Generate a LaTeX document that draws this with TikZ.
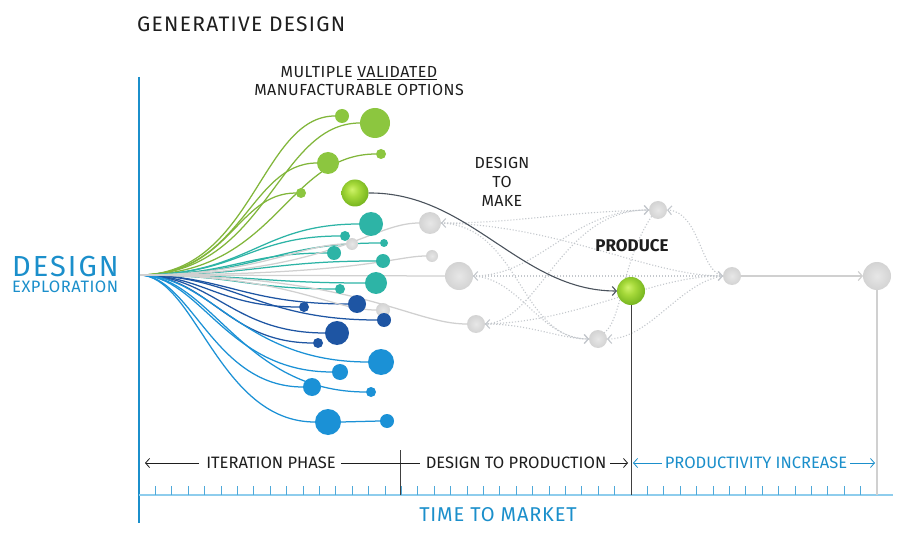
\documentclass[tikz,border=0pt]{standalone}
\usepackage{fontspec}
\setmainfont{Fira Sans}
\usetikzlibrary{arrows.meta}

\definecolor{gdInk}{HTML}{1E1E1E}
\definecolor{gdAxis}{HTML}{1B8FCB}
\definecolor{gdTick}{HTML}{4EA9DA}
\definecolor{gdRule}{HTML}{8ECDED}
\definecolor{gdGreen}{HTML}{8CC63F}
\definecolor{gdTeal}{HTML}{2DB4A6}
\definecolor{gdNavy}{HTML}{1E55A3}
\definecolor{gdBlue}{HTML}{1B91D6}
\definecolor{gdGray}{HTML}{D3D3D3}
\definecolor{gdGrayLine}{HTML}{D0D0D0}
\definecolor{gdDot}{HTML}{C4C8CD}
\definecolor{gdDark}{HTML}{4B535D}
\definecolor{gdLimeHi}{HTML}{CFF36A}
\definecolor{gdLime}{HTML}{A6D93A}
\definecolor{gdLimeLo}{HTML}{76B51F}

\pgfdeclareradialshading{gdlime}{\pgfpoint{-6bp}{7bp}}{%
  color(0bp)=(gdLimeHi); color(12bp)=(gdLime); color(28bp)=(gdLimeLo); color(50bp)=(gdLimeLo)}
\pgfdeclarelayer{bg}
\pgfsetlayers{bg,main}

\begin{document}
\begin{tikzpicture}[
  x=1pt, y=-1pt, text=gdInk,
  gd ball/.style={circle,inner sep=0pt,outer sep=0pt,fill=#1},
  gd lime/.style={circle,inner sep=0pt,outer sep=0pt,shading=gdlime},
  gd ghost/.style={circle,inner sep=0pt,outer sep=0pt,inner color=gdGray!55!white,outer color=gdGray},
  gd path/.style={draw=#1,line width=1.25pt},
  gd flow/.style={draw=gdDot,line width=1.1pt,dash pattern=on 1.1pt off 1.9pt},
  gd tip/.style={-{Straight Barb[length=4pt,width=9pt]}},
  gd dim/.style={draw=gdInk,line width=.8pt},
  gd tick/.style={draw=gdTick,line width=.9pt},
  gd label/.style={font=\fontsize{16.5}{19}\selectfont,inner sep=0pt}
]
\begin{pgfonlayer}{bg}
  \fill[white] (0,0) rectangle (923,553);
\end{pgfonlayer}
\useasboundingbox (0,0) rectangle (923,553);

% Titles and axis words.
\node[anchor=west,inner sep=0pt,font=\fontsize{21}{24}\selectfont\addfontfeatures{LetterSpace=6}] (title) at (137,24) {GENERATIVE DESIGN};
\node[anchor=north west,inner sep=0pt,align=left,text=gdAxis,
  font=\fontsize{16.5}{16.5}\selectfont\addfontfeatures{LetterSpace=3}] (expl) at (12,255.5)
  {{\fontsize{29}{29}\selectfont\addfontfeatures{LetterSpace=7}DESIGN}\\EXPLORATION};
\node[gd label,align=center,font=\fontsize{16}{18}\selectfont\addfontfeatures{LetterSpace=3}] (opts) at (359,81)
  {MULTIPLE \underline{VALIDATED}\\MANUFACTURABLE OPTIONS};
\node[gd label,align=center,font=\fontsize{16}{19}\selectfont\addfontfeatures{LetterSpace=2}] (make) at (502,182) {DESIGN\\TO\\MAKE};
\node[inner sep=0pt,font=\bfseries\fontsize{17}{17}\selectfont] (prodlab) at (632,246) {PRODUCE};

% Axes.
\coordinate (o) at (139,275);
\draw[draw=gdAxis,line width=2.6pt] (139,77) -- (139,523);
\draw[draw=gdRule,line width=1.2pt] (139,495) -- (893,495);
\foreach \k in {1,...,44}
  \draw[gd tick] (139+16.4*\k,495) -- ++(0,-9);

% Option balls, each fed by a curve from the origin.
\foreach \n/\xx/\yy/\rr in {1/342/116/7,2/375/123/15,3/381/154/5,4/328/163/11,5/301/193/5} {
  \node[gd ball=gdGreen,minimum size=\rr*2pt] (g\n) at (\xx,\yy) {};
  \pgfmathsetmacro\dd{\xx-\rr-139}
  \begin{pgfonlayer}{bg}
    \draw[gd path=gdGreen!92!black] (o) .. controls +(.58*\dd,0) and +(-.38*\dd,0) .. (g\n.west);
  \end{pgfonlayer}
}
\foreach \n/\xx/\yy/\rr in {1/371/224/12,2/345/236/5,3/384/243/4,4/334/253/7,5/383/261/7,6/376/283/11,7/340/289/5} {
  \node[gd ball=gdTeal,minimum size=\rr*2pt] (t\n) at (\xx,\yy) {};
  \pgfmathsetmacro\dd{\xx-\rr-139}
  \begin{pgfonlayer}{bg}
    \draw[gd path=gdTeal] (o) .. controls +(.5*\dd,0) and +(-.45*\dd,0) .. (t\n.west);
  \end{pgfonlayer}
}
\node[gd ghost,minimum size=12pt] (s1) at (352,244) {};
\node[gd ghost,minimum size=14pt] (s2) at (383,310) {};
\foreach \n/\xx/\yy/\rr in {1/304/307/5,2/357/304/9,3/384/320/7,4/337/333/12,5/318/343/5} {
  \node[gd ball=gdNavy,minimum size=\rr*2pt] (n\n) at (\xx,\yy) {};
  \pgfmathsetmacro\dd{\xx-\rr-139}
  \begin{pgfonlayer}{bg}
    \draw[gd path=gdNavy] (o) .. controls +(.4*\dd,0) and +(-.5*\dd,0) .. (n\n.west);
  \end{pgfonlayer}
}
\foreach \n/\xx/\yy/\rr in {1/381/362/13,2/340/372/8,3/312/387/9,4/371/392/5,5/328/422/13} {
  \node[gd ball=gdBlue,minimum size=\rr*2pt] (b\n) at (\xx,\yy) {};
  \pgfmathsetmacro\dd{\xx-\rr-139}
  \begin{pgfonlayer}{bg}
    \draw[gd path=gdBlue] (o) .. controls +(.32*\dd,0) and +(-.55*\dd,0) .. (b\n.west);
  \end{pgfonlayer}
}
\node[gd ball=gdBlue,minimum size=14pt] (b6) at (387,421) {};
\node[gd lime,minimum size=27pt] (pick) at (355,193) {};

% Grey alternatives and the production chain.
\node[gd ghost,minimum size=22pt] (gl1) at (430,223) {};
\node[gd ghost,minimum size=12pt] (gs) at (432,256) {};
\node[gd ghost,minimum size=28pt] (gl2) at (459,276) {};
\node[gd ghost,minimum size=18pt] (gl3) at (476,324) {};
\node[gd ghost,minimum size=18pt] (gt) at (658,210) {};
\node[gd ghost,minimum size=18pt] (gb) at (598,339) {};
\node[gd ghost,minimum size=18pt] (gr) at (732,276) {};
\node[gd ghost,minimum size=28pt] (gend) at (877,276) {};
\node[gd lime,minimum size=28pt] (prod) at (631,291) {};

\begin{pgfonlayer}{bg}
\draw[gd path=gdBlue] (b5.east) -- (b6.west);
\draw[gd path=gdGrayLine] (o) .. controls (260,275) and (300,244) .. (s1.west);
\draw[gd path=gdGrayLine] (o) .. controls (290,275) and (330,310) .. (s2.west);
\draw[gd path=gdGrayLine] (o) .. controls (330,275) and (370,223) .. (gl1.west);
\draw[gd path=gdGrayLine] (o) .. controls (360,275) and (395,256) .. (gs.west);
\draw[gd path=gdGrayLine] (o) -- (gl2.west);
\draw[gd path=gdGrayLine] (o) .. controls (360,275) and (410,324) .. (gl3.west);
% dotted feedback network
\draw[gd flow,gd tip] (gr.west) -- (gl2.east);
\draw[gd flow,gd tip] (gt.west) .. controls (560,212) and (520,223) .. (gl1.east);
\draw[gd flow,gd tip] (gb.west) .. controls (560,339) and (530,324) .. (gl3.east);
\draw[gd flow,gd tip] (gl1.east) .. controls (520,226) and (520,339) .. (gb.west);
\draw[gd flow,gd tip] (gl3.east) .. controls (540,322) and (560,210) .. (gt.west);
\draw[gd flow,gd tip] (gl2.east) .. controls (540,276) and (570,210) .. (gt.west);
\draw[gd flow,gd tip] (gl2.east) .. controls (520,278) and (540,339) .. (gb.west);
\draw[gd flow,gd tip] (gl1.east) .. controls (560,225) and (650,276) .. (gr.west);
\draw[gd flow,gd tip] (gl3.east) .. controls (580,322) and (650,276) .. (gr.west);
\draw[gd flow,gd tip] (gr.west) .. controls (700,272) and (700,212) .. (gt.east);
\draw[gd flow,gd tip] (gr.west) .. controls (680,282) and (650,339) .. (gb.east);
\draw[gd flow] (gt.south west) .. controls (622,260) and (622,320) .. (gb.north east);
\end{pgfonlayer}

\draw[draw=gdDark,line width=1.1pt,gd tip] (pick.east) .. controls (470,192) and (520,291) .. (prod.west);
\draw[draw=gdGrayLine,line width=1.2pt,gd tip] (gr.east) -- (gend.west);
\draw[draw=gdGrayLine,line width=1.2pt] (gend.south) -- (877,495);
\draw[draw=gdInk!85,line width=.95pt] (prod.south) -- (631,495);
\draw[draw=gdInk!85,line width=.95pt] (400,450) -- (400,495);

% Phase labels under the options.
\node[gd label] (iter) at (271,463) {ITERATION PHASE};
\node[gd label] (d2p) at (516,463) {DESIGN TO PRODUCTION};
\node[gd label,text=gdAxis] (gain) at (756,463) {PRODUCTIVITY INCREASE};
\coordinate (iterL) at (145,463);
\coordinate (d2pR) at (628,463);
\coordinate (gainL) at (633,463);
\coordinate (gainR) at (875,463);
\draw[gd dim,gd tip] ([xshift=-7pt]iter.west) -- (iterL);
\draw[gd dim] ([xshift=5pt]iter.east) -- ([xshift=-6pt]d2p.west);
\draw[gd dim,gd tip] ([xshift=4pt]d2p.east) -- (d2pR);
\draw[draw=gdAxis,line width=.8pt,gd tip] ([xshift=-3pt]gain.west) -- (gainL);
\draw[draw=gdAxis,line width=.8pt,gd tip] ([xshift=3pt]gain.east) -- (gainR);
\node[inner sep=0pt,text=gdAxis,font=\fontsize{20}{20}\selectfont\addfontfeatures{LetterSpace=4}] (ttm) at (498,515) {TIME TO MARKET};
\end{tikzpicture}
\end{document}
